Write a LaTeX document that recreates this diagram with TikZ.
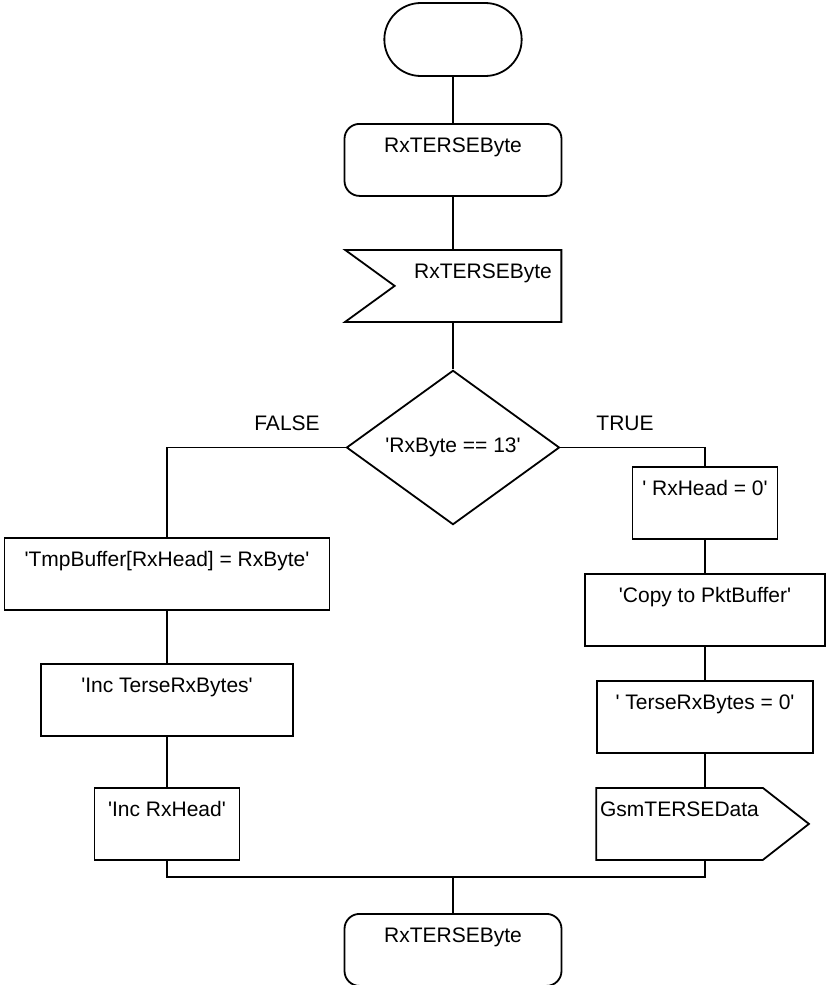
\documentclass[tikz,border=0pt]{standalone}
\usepackage{fontspec}
\setmainfont{Liberation Sans}
\usetikzlibrary{shapes.geometric,shapes.symbols,shapes.misc}

% straight quote, not the curly one
\newcommand{\sq}{\textquotesingle}

\begin{document}
\begin{tikzpicture}[x=1pt, y=-1pt, line width=1.8pt,
  every node/.style={font=\fontsize{21}{25}\selectfont},
  box/.style={draw, rectangle, anchor=north, inner xsep=6pt, inner ysep=4pt, text height=25pt, text depth=39pt},
  term/.style={box, rounded corners=15pt},
  recv/.style={box, signal, signal to=nowhere, signal from=west, signal pointer angle=72, inner xsep=9.5pt},
  send/.style={box, signal, signal to=east, signal from=nowhere, signal pointer angle=76, inner xsep=4pt}]
\useasboundingbox (0,0) rectangle (825,985);

\node (start)[draw, rounded rectangle, minimum width=144pt, minimum height=73pt] at (453, 39.5) {};
\node (begin)[term, minimum width=217pt] at (453, 123) {RxTERSEByte};
\node (input)[recv] at (478, 249) {\hspace{10pt}RxTERSEByte};
\node (test)[diamond, draw, minimum width=213pt, minimum height=107pt, inner sep=0pt] at (453, 447.5) {\sq RxByte == 13\sq};
\node (false) at (287, 423) {FALSE};
\node (true) at (625, 423) {TRUE};

% FALSE branch
\node (store)[box, minimum width=325pt] at (167, 537) {\sq TmpBuffer[RxHead] = RxByte\sq};
\node (incbytes)[box, minimum width=252pt] at (167, 663) {\sq Inc TerseRxBytes\sq};
\node (inchead)[box, minimum width=145pt] at (167, 787) {\sq Inc RxHead\sq};

% TRUE branch
\node (clrhead)[box, minimum width=145pt] at (705, 466) {\sq{} RxHead = 0\sq};
\node (copy)[box, minimum width=240pt] at (705, 573) {\sq Copy to PktBuffer\sq};
\node (clrbytes)[box, minimum width=216pt] at (705, 680) {\sq{} TerseRxBytes = 0\sq};
\node (output)[send] at (679.5, 787) {GsmTERSEData};

\coordinate (merge) at (453, 877);
\node (stop)[term, minimum width=217pt] at (453, 913) {RxTERSEByte};

\draw (start) -- (begin);
\draw (begin) -- (begin.south |- input.north);
\draw (begin.south |- input.south) -- (test);
\draw (test.west) -| (store.north);
\draw (test.east) -| (clrhead.north);
\draw (store) -- (incbytes);
\draw (incbytes) -- (inchead);
\draw (clrhead) -- (copy);
\draw (copy) -- (clrbytes);
\draw (clrbytes) -- (clrbytes.south |- output.north);
\draw (inchead.south) |- (merge) -| (clrbytes.south |- output.south);
\draw (merge) -- (stop);
\end{tikzpicture}
\end{document}
